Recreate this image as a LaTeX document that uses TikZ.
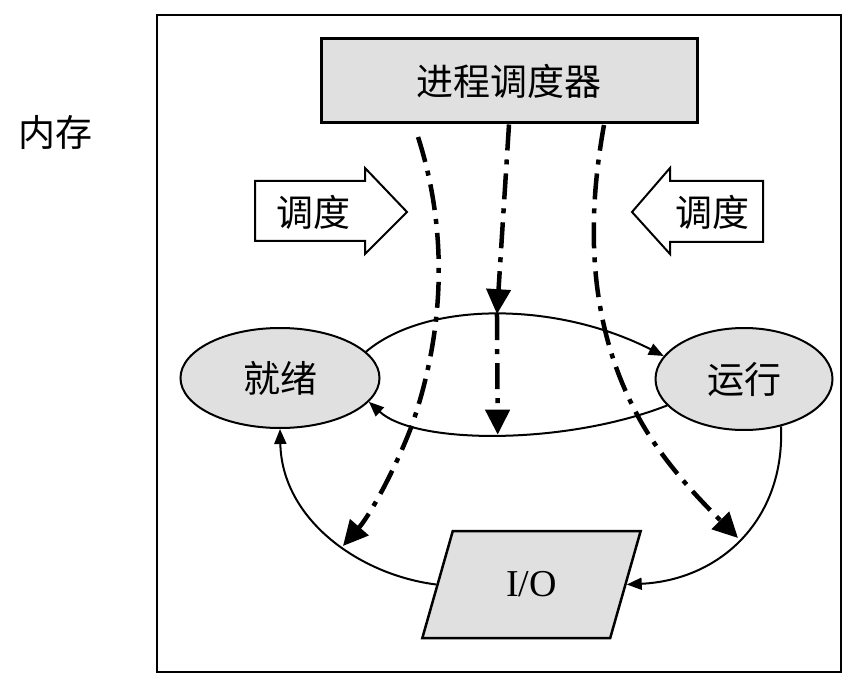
\documentclass[tikz,border=0pt]{standalone}
\usepackage{fontspec}
\setmainfont{Liberation Serif}
\newfontfamily\cjk{Noto Sans CJK SC}
\usetikzlibrary{arrows.meta,shapes.geometric}
\definecolor{boxgray}{HTML}{E0E0E0}
\begin{document}
\begin{tikzpicture}[x=1pt,y=-1pt,
  lbl/.style={font=\cjk\fontsize{37}{42}\selectfont},
  stateell/.style={ellipse, draw, line width=2pt, fill=boxgray, inner sep=0pt, font=\cjk\fontsize{37}{42}\selectfont},
  thinarr/.style={line width=2pt, -{Triangle[length=15pt,width=12pt]}},
  schedarr/.style={line width=4.5pt, dash pattern=on 26pt off 9pt on 5pt off 9pt, -{Triangle[length=25pt,width=24pt]}},
  blockarr/.style={draw, line width=2pt, fill=white, line join=miter}
]
\useasboundingbox (0,0) rectangle (857,687);
\fill[white] (0,0) rectangle (857,687);

% memory frame
\node[draw, line width=2.5pt, minimum width=684pt, minimum height=657pt, inner sep=0pt] (frame) at (499,343.5) {};
\node[lbl] (mem) at (55,132) {内存};

% scheduler
\node[draw, line width=3pt, fill=boxgray, minimum width=376pt, minimum height=84pt, inner sep=0pt, lbl] (sched) at (509,81) {进程调度器};

% block arrows
\draw[blockarr] (255,181) -- (365,181) -- (365,168) -- (407,212) -- (365,254) -- (365,241) -- (255,241) -- cycle;
\node[lbl] (larr) at (313,212) {调度};
\draw[blockarr] (763,181) -- (670,181) -- (670,168) -- (632,212) -- (670,254) -- (670,242) -- (763,242) -- cycle;
\node[lbl] (rarr) at (712,212) {调度};

% states
\node[stateell, minimum width=199pt, minimum height=100pt] (ready) at (280,378) {就绪};
\node[stateell, minimum width=177pt, minimum height=102pt] (run) at (744,379) {运行};

% I/O
\node[trapezium, trapezium left angle=69, trapezium right angle=111, trapezium stretches=true,
      minimum width=219pt, minimum height=107pt, inner sep=0pt, draw, line width=2.5pt, fill=boxgray,
      font=\fontsize{38}{44}\selectfont] (io) at (531.5,584.5) {I/O};

% transitions
\draw[thinarr] (ready.17) .. controls (426,301) and (556,301) .. coordinate[pos=0.5] (mtop) (run.164);
\draw[thinarr] (run.-161) .. controls (566,445) and (416,445) .. coordinate[pos=0.5] (mbot) (ready.-15);
\draw[thinarr] (io.west) .. controls (360,575) and (282,520) .. (ready.south);
\draw[thinarr] (run.-52) .. controls (785,520) and (720,580) .. (io.east);

% scheduler dispatch lines
\coordinate (ls) at (418,137);
\coordinate (lend) at (343,546);
\coordinate (rs) at (604,125);
\coordinate (rend) at (738,538);
\draw[schedarr] (ls) .. controls (448,230) and (445,330) .. (412,425) .. controls (395,470) and (370,515) .. (lend);
\draw[schedarr] (sched.south) -- (mtop);
\draw[schedarr] (mtop) -- (mbot);
\draw[schedarr] (rs) .. controls (585,230) and (590,330) .. (640,420) .. controls (665,465) and (705,505) .. (rend);
\end{tikzpicture}
\end{document}
